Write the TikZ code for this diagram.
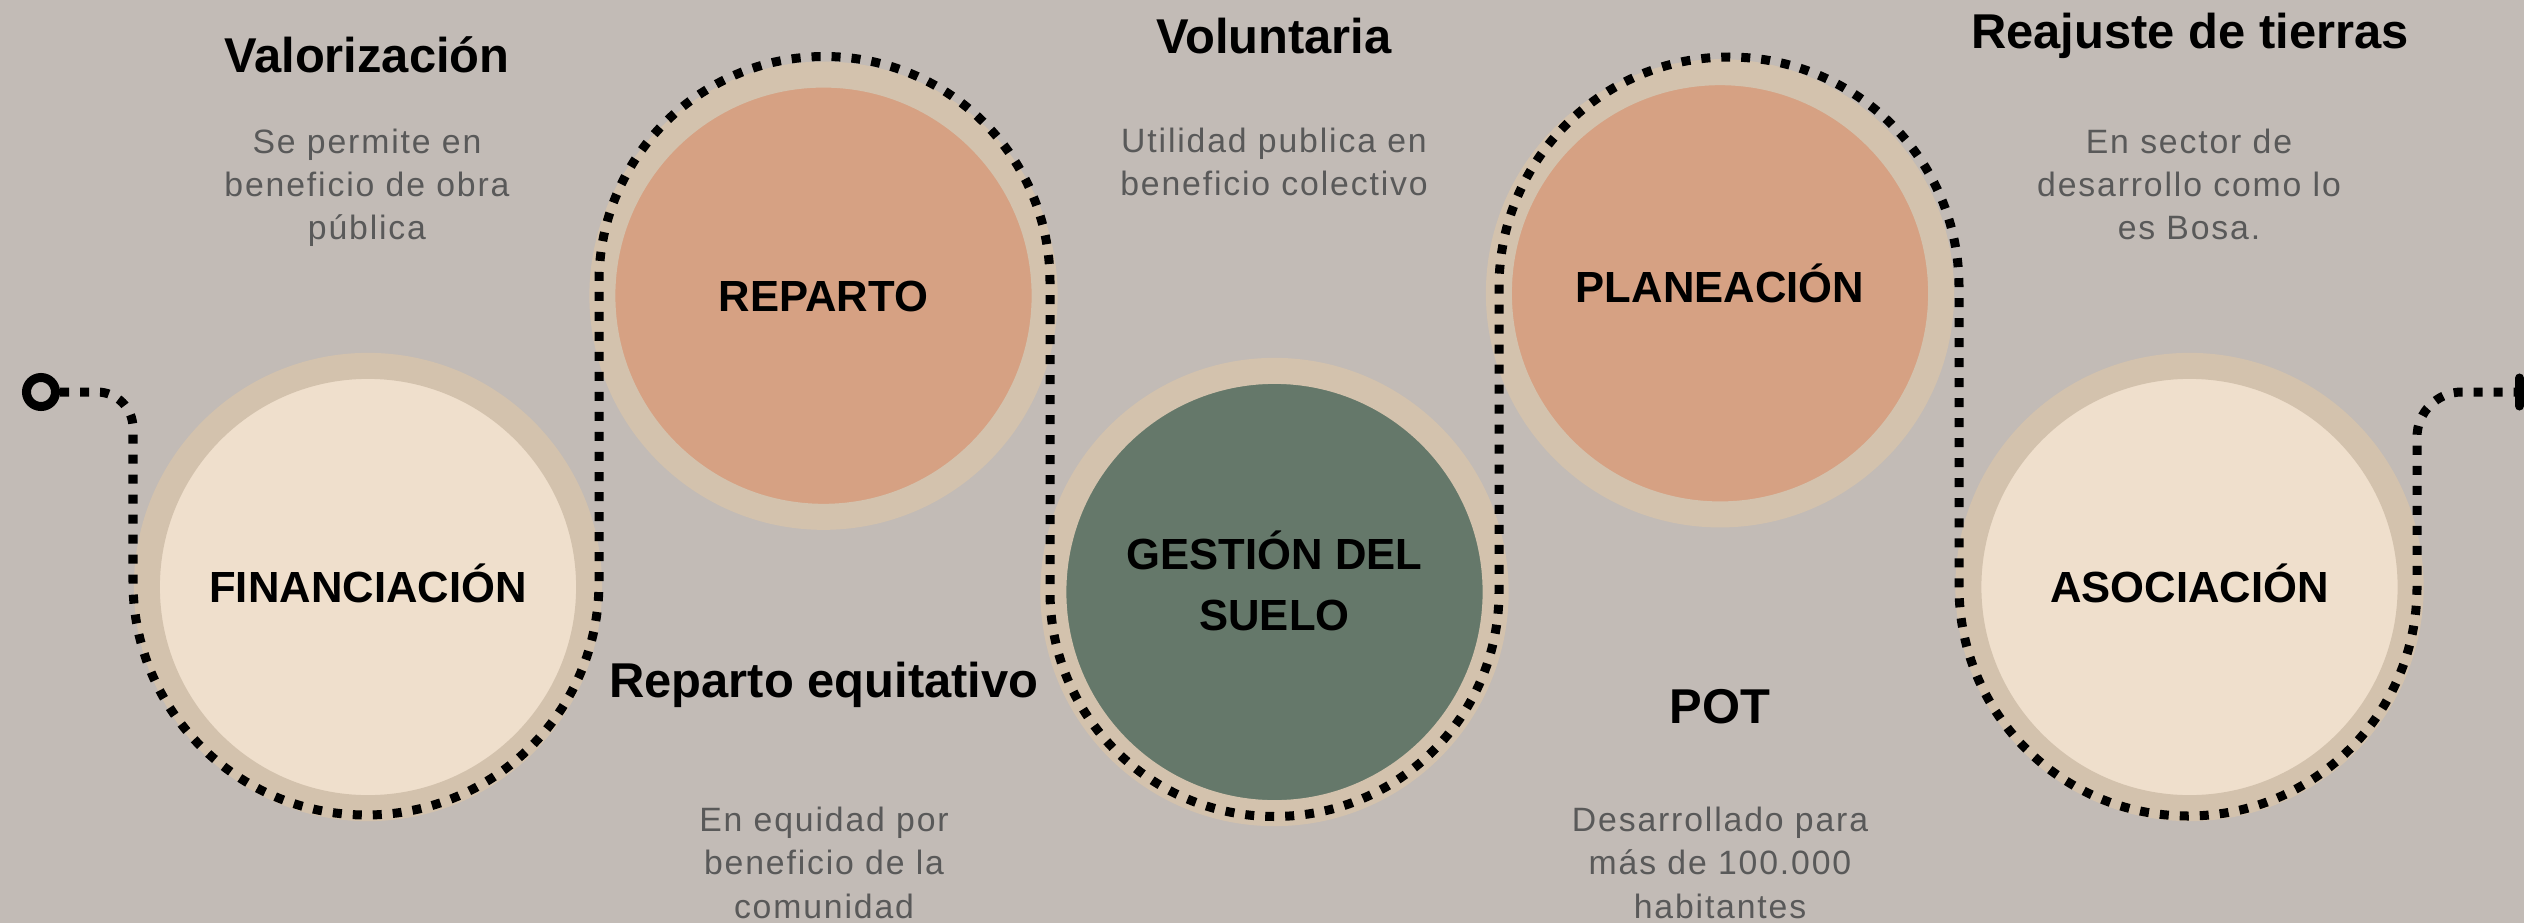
\documentclass[tikz,border=0pt]{standalone}
\usepackage{fontspec}
\setmainfont{Liberation Sans}
\newfontfamily\descfont[LetterSpace=5.5]{Liberation Sans}
\usepackage{tikz}

\definecolor{fondo}{HTML}{C2BBB6}
\definecolor{anillo}{HTML}{D3C2AD}
\definecolor{durazno}{HTML}{D6A183}
\definecolor{crema}{HTML}{EFDFCC}
\definecolor{verde}{HTML}{65786A}
\definecolor{gristexto}{HTML}{595959}

\begin{document}
\begin{tikzpicture}[x=0.01cm,y=0.01cm]
		\tikzset{bigcircle/.style={circle,draw=anillo,line width=0.26cm,fill=#1,minimum size=4.42cm,inner sep=0pt,align=center,font=\bfseries\fontsize{12.4}{17.1}\selectfont,text height=0.317cm,text depth=0cm}};
		\tikzset{route/.style={line width=0.09cm,dash pattern=on 0.09cm off 0.11cm}};
		\tikzset{titletext/.style={anchor=base,font=\bfseries\fontsize{13.9}{16}\selectfont}};
		\tikzset{desctext/.style={anchor=base,align=center,text=gristexto,font=\descfont\fontsize{9.6}{12.3}\selectfont}};
		\useasboundingbox (0,0) rectangle (2524,923);
		\fill[fondo] (0,0) rectangle (2524,923);
		\node[bigcircle=crema] (financiacion) at (368,336) {FINANCIACIÓN};
		\node[bigcircle=durazno] (reparto) at (823.5,627.3) {REPARTO};
		\node[bigcircle=verde,text height=0.76cm,text depth=0cm] (gestion) at (1274.5,331) {GESTIÓN DEL\\SUELO};
		\node[bigcircle=durazno,text depth=0.14cm] (planeacion) at (1720,629.7) {PLANEACIÓN};
		\node[bigcircle=crema] (asociacion) at (2189.5,336) {ASOCIACIÓN};
		\node[circle,draw,line width=0.09cm,minimum size=0.29cm,inner sep=0pt] (inicio) at (41,531) {};
		\coordinate (fin) at (2519.5,531);
		\draw[route] (inicio.east) -- (97,531) arc[start angle=90,end angle=0,radius=36] -- (133,341)
			arc[start angle=180,end angle=360,radius=233] -- (599,641)
			arc[start angle=180,end angle=0,radius=225.5] -- (1050,331)
			arc[start angle=180,end angle=360,radius=224.5] -- (1499,636)
			arc[start angle=180,end angle=0,radius=230] -- (1959,336)
			arc[start angle=180,end angle=360,radius=229] -- (2417,486)
			arc[start angle=180,end angle=90,radius=45] -- (fin);
		\draw[line width=0.09cm,line cap=round] ([yshift=0.14cm]fin) -- ([yshift=-0.14cm]fin);
		% base anchor sits on the last line
		\node[titletext] (valorizacion) at (367,851) {Valorización};
		\node[desctext] (valorizaciontxt) at (367,683.4) {Se permite en\\beneficio de obra\\pública};
		\node[titletext] (voluntaria) at (1274,870) {Voluntaria};
		\node[desctext] (voluntariatxt) at (1274,727.7) {Utilidad publica en\\beneficio colectivo};
		\node[titletext] (reajuste) at (2190,875) {Reajuste de tierras};
		\node[desctext] (reajustetxt) at (2189,683.4) {En sector de\\desarrollo como lo\\es Bosa.};
		\node[titletext] (equitativo) at (824,226) {Reparto equitativo};
		\node[desctext] (equitativotxt) at (824,5) {En equidad por\\beneficio de la\\comunidad};
		\node[titletext] (pot) at (1720,200) {POT};
		\node[desctext] (pottxt) at (1720,5) {Desarrollado para\\más de 100.000\\habitantes};
	\end{tikzpicture}
\end{document}
